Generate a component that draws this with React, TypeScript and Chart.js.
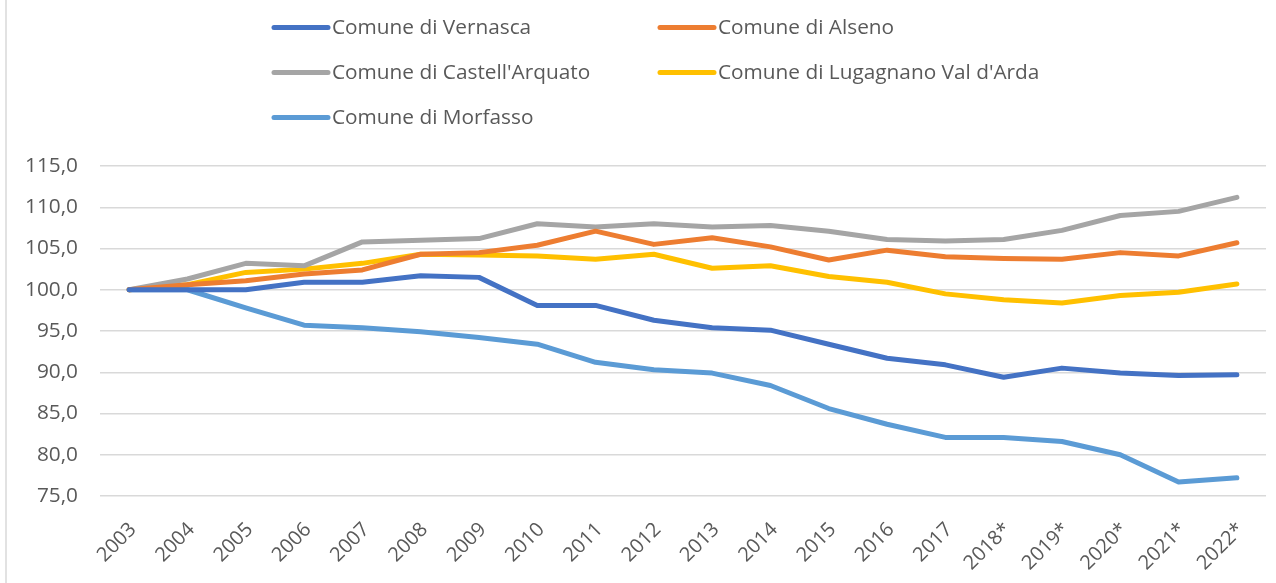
import React, { useEffect, useRef } from "react";
import { Chart, registerables } from "chart.js";

Chart.register(...registerables);

const years = ["2003", "2004", "2005", "2006", "2007", "2008", "2009", "2010", "2011", "2012", "2013", "2014", "2015", "2016", "2017", "2018*", "2019*", "2020*", "2021*", "2022*"];

const vernasca = [100.0, 100.0, 100.0, 100.9, 100.9, 101.7, 101.5, 98.1, 98.1, 96.3, 95.4, 95.1, 93.4, 91.7, 90.9, 89.4, 90.5, 89.9, 89.6, 89.7];
const alseno = [100.0, 100.6, 101.1, 101.9, 102.4, 104.3, 104.5, 105.4, 107.1, 105.5, 106.3, 105.2, 103.6, 104.8, 104.0, 103.8, 103.7, 104.5, 104.1, 105.7];
const castellArquato = [100.0, 101.3, 103.2, 102.9, 105.8, 106.0, 106.2, 108.0, 107.6, 108.0, 107.6, 107.8, 107.1, 106.1, 105.9, 106.1, 107.2, 109.0, 109.5, 111.2];
const lugagnano = [100.0, 100.6, 102.1, 102.5, 103.2, 104.3, 104.2, 104.1, 103.7, 104.3, 102.6, 102.9, 101.6, 100.9, 99.5, 98.8, 98.4, 99.3, 99.7, 100.7];
const morfasso = [100.0, 100.0, 97.8, 95.7, 95.4, 94.9, 94.2, 93.4, 91.2, 90.3, 89.9, 88.4, 85.6, 83.7, 82.1, 82.1, 81.6, 80.0, 76.7, 77.2];

const seriesNames = ["Comune di Vernasca", "Comune di Alseno", "Comune di Castell'Arquato", "Comune di Lugagnano Val d'Arda", "Comune di Morfasso"];
const seriesColors = ["#4472C4", "#ED7D31", "#A5A5A5", "#FFC000", "#5B9BD5"];
const seriesValues = [vernasca, alseno, castellArquato, lugagnano, morfasso];

const yMin = 75;
const yMax = 115;
const yStep = 5;

const FONT = "'Open Sans', 'DejaVu Sans', sans-serif";
const TEXT_COLOR = "#595959";

const legendPlugin = {
  id: "gridLegend",
  beforeDraw(chart: any) {
    const ctx = chart.ctx;
    ctx.save();
    ctx.strokeStyle = "#D9D9D9";
    ctx.lineWidth = 1.5;
    ctx.beginPath();
    ctx.moveTo(6, 0);
    ctx.lineTo(6, chart.height);
    ctx.stroke();
    ctx.restore();
  },
  afterDraw(chart: any) {
    const ctx = chart.ctx;
    const cols = [272, 658];
    const rows = [27.5, 72.5, 117.5];
    ctx.save();
    ctx.font = "20.8px " + FONT;
    ctx.textBaseline = "middle";
    ctx.textAlign = "left";
    chart.data.datasets.forEach((ds: any, i: number) => {
      const x = cols[i % 2];
      const y = rows[Math.floor(i / 2)];
      ctx.strokeStyle = ds.borderColor;
      ctx.lineWidth = 5;
      ctx.lineCap = "round";
      ctx.beginPath();
      ctx.moveTo(x + 2, y);
      ctx.lineTo(x + 56, y);
      ctx.stroke();
      ctx.fillStyle = TEXT_COLOR;
      ctx.fillText(ds.label, x + 60, y + 1);
    });
    ctx.restore();
  },
};

export default function App() {
  const canvasRef = useRef<HTMLCanvasElement | null>(null);

  useEffect(() => {
    if (!canvasRef.current) return;
    const chart = new Chart(canvasRef.current, {
      type: "line",
      data: {
        labels: years,
        datasets: seriesNames.map((name, i) => ({
          label: name,
          data: seriesValues[i],
          borderColor: seriesColors[i],
          backgroundColor: seriesColors[i],
          borderWidth: 5,
          pointRadius: 0,
          tension: 0,
          borderCapStyle: "round" as const,
          borderJoinStyle: "round" as const,
        })),
      },
      options: {
        animation: false,
        responsive: true,
        maintainAspectRatio: false,
        layout: { padding: { top: 166, right: 6, left: 0, bottom: 0 } },
        plugins: {
          legend: { display: false },
          tooltip: { enabled: false },
          title: { display: false },
        },
        scales: {
          x: {
            offset: true,
            grid: { display: false, drawTicks: false },
            border: { display: false },
            ticks: {
              minRotation: 45,
              maxRotation: 45,
              autoSkip: false,
              padding: 22,
              labelOffset: 4,
              color: TEXT_COLOR,
              font: { family: FONT, size: 20 },
            },
            afterFit(scale: any) {
              scale.height = 87;
            },
          },
          y: {
            min: yMin,
            max: yMax,
            grid: { color: "#D9D9D9", lineWidth: 1.5, drawTicks: false },
            border: { display: false },
            ticks: {
              stepSize: yStep,
              padding: 22,
              color: TEXT_COLOR,
              font: { family: FONT, size: 20.8 },
              callback: (v: any) => Number(v).toFixed(1).replace(".", ","),
            },
            afterFit(scale: any) {
              scale.width = 100;
            },
          },
        },
      },
      plugins: [legendPlugin],
    });
    return () => chart.destroy();
  }, []);

  return (
    <div style={{ position: "fixed", left: 0, top: 0, width: 1276, height: 583, background: "#fff" }}>
      <canvas ref={canvasRef} />
    </div>
  );
}
